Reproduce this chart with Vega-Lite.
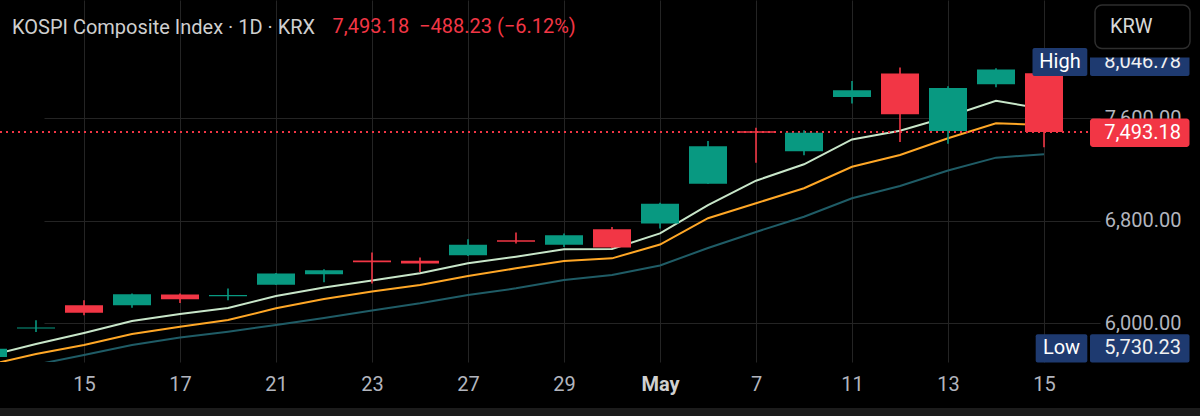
{
  "$schema": "https://vega.github.io/schema/vega-lite/v6.json",
  "width": 1088,
  "height": 362,
  "autosize": {"type": "none"},
  "padding": {"left": 0, "top": 0, "right": 112, "bottom": 54},
  "background": "#000000",
  "config": {"view": {"stroke": null}, "font": "Roboto"},
  "title": {
    "text": "KOSPI Composite Index · 1D · KRX",
    "anchor": "start", "frame": "group", "orient": "top",
    "offset": -54, "baseline": "alphabetic", "dx": 12,
    "fontSize": 20, "fontWeight": "normal", "color": "#cfcfcf"
  },
  "resolve": {"axis": {"x": "independent", "y": "independent"}},
  "datasets": {
    "candles": [
      {"d": "4/13", "o": 5737, "h": 5812, "l": 5730.23, "c": 5802, "m1": 5745, "m2": 5675, "m3": 5600},
      {"d": "4/14", "o": 5960, "h": 6023, "l": 5932, "c": 5967, "m1": 5838, "m2": 5760, "m3": 5677},
      {"d": "4/15", "o": 6140, "h": 6180, "l": 6062, "c": 6083, "m1": 5924, "m2": 5831, "m3": 5753},
      {"d": "4/16", "o": 6140, "h": 6232, "l": 6122, "c": 6226, "m1": 6018, "m2": 5916, "m3": 5831},
      {"d": "4/17", "o": 6224, "h": 6232, "l": 6158, "c": 6187, "m1": 6072, "m2": 5973, "m3": 5889},
      {"d": "4/20", "o": 6212, "h": 6271, "l": 6180, "c": 6220, "m1": 6119, "m2": 6026, "m3": 5934},
      {"d": "4/21", "o": 6300, "h": 6392, "l": 6298, "c": 6388, "m1": 6213, "m2": 6117, "m3": 5987},
      {"d": "4/22", "o": 6382, "h": 6421, "l": 6320, "c": 6414, "m1": 6279, "m2": 6190, "m3": 6041},
      {"d": "4/23", "o": 6490, "h": 6552, "l": 6310, "c": 6476, "m1": 6334, "m2": 6248, "m3": 6100},
      {"d": "4/24", "o": 6489, "h": 6513, "l": 6400, "c": 6466, "m1": 6390, "m2": 6299, "m3": 6156},
      {"d": "4/27", "o": 6531, "h": 6656, "l": 6525, "c": 6614, "m1": 6468, "m2": 6369, "m3": 6221},
      {"d": "4/28", "o": 6648, "h": 6708, "l": 6622, "c": 6636, "m1": 6520, "m2": 6429, "m3": 6273},
      {"d": "4/29", "o": 6614, "h": 6700, "l": 6595, "c": 6687, "m1": 6578, "m2": 6486, "m3": 6338},
      {"d": "4/30", "o": 6734, "h": 6752, "l": 6588, "c": 6591, "m1": 6580, "m2": 6507, "m3": 6377},
      {"d": "5/4", "o": 6778, "h": 6940, "l": 6739, "c": 6933, "m1": 6702, "m2": 6615, "m3": 6451},
      {"d": "5/6", "o": 7090, "h": 7423, "l": 7088, "c": 7381, "m1": 6923, "m2": 6820, "m3": 6588},
      {"d": "5/7", "o": 7498, "h": 7527, "l": 7254, "c": 7487, "m1": 7113, "m2": 6937, "m3": 6713},
      {"d": "5/8", "o": 7342, "h": 7506, "l": 7311, "c": 7488, "m1": 7241, "m2": 7054, "m3": 6832},
      {"d": "5/11", "o": 7766, "h": 7891, "l": 7715, "c": 7819, "m1": 7435, "m2": 7222, "m3": 6976},
      {"d": "5/12", "o": 7949, "h": 7996, "l": 7415, "c": 7631, "m1": 7503, "m2": 7314, "m3": 7072},
      {"d": "5/13", "o": 7501, "h": 7850, "l": 7402, "c": 7836, "m1": 7612, "m2": 7444, "m3": 7193},
      {"d": "5/14", "o": 7865, "h": 7990, "l": 7842, "c": 7981.41, "m1": 7737, "m2": 7561, "m3": 7293},
      {"d": "5/15", "o": 7951, "h": 8046.78, "l": 7374, "c": 7493.18, "m1": 7673, "m2": 7548, "m3": 7319}
    ],
    "tags": [
      {"tag": "High", "price": 8046.78},
      {"tag": "Last", "price": 7493.18},
      {"tag": "Low", "price": 5730.23}
    ]
  },
  "data": {"name": "candles"},
  "layer": [
    {
      "mark": {"type": "line", "color": "#1f5c66", "strokeWidth": 2, "clip": true},
      "encoding": {
        "x": {
          "field": "d", "type": "ordinal", "sort": null,
          "scale": {"type": "point", "range": [-12, 1044], "padding": 0},
          "axis": {
            "values": ["4/15", "4/17", "4/21", "4/23", "4/27", "4/29", "5/4", "5/7", "5/11", "5/13", "5/15"],
            "labelExpr": "datum.value == '5/4' ? 'May' : split(datum.value, '/')[1]",
            "grid": true, "gridColor": "#242424", "gridWidth": 1,
            "domain": false, "ticks": false, "labelAngle": 0,
            "labelFontSize": 20, "labelPadding": 12,
            "labelColor": {"condition": {"test": "datum.value == '5/4'", "value": "#d0d0d0"}, "value": "#b2b5be"},
            "labelFontWeight": {"condition": {"test": "datum.value == '5/4'", "value": "bold"}, "value": "normal"},
            "title": "7,493.18\u00a0\u00a0−488.23 (−6.12%)",
            "titleX": 332, "titleY": -329.5, "titleAlign": "left", "titleAnchor": "start",
            "titleBaseline": "alphabetic", "titleColor": "#f23645",
            "titleFontSize": 20, "titleFontWeight": "normal"
          }
        },
        "y": {
          "field": "m3", "type": "quantitative",
          "scale": {"domain": [5698, 8523.3], "nice": false, "zero": false},
          "axis": {
            "values": [6000, 6800, 7600], "format": ",.2f",
            "orient": "right", "grid": true, "gridColor": "#242424",
            "domain": false, "ticks": false, "title": null,
            "labelAlign": "right", "labelBaseline": "middle", "labelPadding": 93,
            "labelFontSize": 20, "labelColor": "#b2b5be"
          }
        }
      }
    },
    {
      "mark": {"type": "line", "color": "#ffa726", "strokeWidth": 2, "clip": true},
      "encoding": {
        "x": {"field": "d", "type": "ordinal", "sort": null, "axis": null},
        "y": {"field": "m2", "type": "quantitative", "scale": {"domain": [5698, 8523.3], "nice": false, "zero": false}, "axis": null}
      }
    },
    {
      "mark": {"type": "line", "color": "#c8e6c9", "strokeWidth": 2, "clip": true},
      "encoding": {
        "x": {"field": "d", "type": "ordinal", "sort": null, "axis": null},
        "y": {"field": "m1", "type": "quantitative", "scale": {"domain": [5698, 8523.3], "nice": false, "zero": false}, "axis": null}
      }
    },
    {
      "data": {"name": "tags"},
      "transform": [{"filter": "datum.tag == 'Last'"}],
      "mark": {"type": "rule", "color": "#f23645", "strokeWidth": 2, "strokeDash": [2, 4]},
      "encoding": {
        "y": {"field": "price", "type": "quantitative", "scale": {"domain": [5698, 8523.3], "nice": false, "zero": false}, "axis": null}
      }
    },
    {
      "mark": {"type": "rule", "strokeWidth": 1.6, "clip": true},
      "encoding": {
        "x": {"field": "d", "type": "ordinal", "sort": null, "axis": null},
        "y": {"field": "l", "type": "quantitative", "scale": {"domain": [5698, 8523.3], "nice": false, "zero": false}, "axis": null},
        "y2": {"field": "h"},
        "color": {"condition": {"test": "datum.c >= datum.o", "value": "#089981"}, "value": "#f23645"}
      }
    },
    {
      "mark": {"type": "bar", "size": 38, "clip": true},
      "encoding": {
        "x": {"field": "d", "type": "ordinal", "sort": null, "axis": null},
        "y": {"field": "o", "type": "quantitative", "scale": {"domain": [5698, 8523.3], "nice": false, "zero": false}, "axis": null},
        "y2": {"field": "c"},
        "color": {"condition": {"test": "datum.c >= datum.o", "value": "#089981"}, "value": "#f23645"}
      }
    },
    {
      "data": {"name": "tags"},
      "transform": [{"filter": "datum.tag == 'High'"}],
      "encoding": {
        "y": {"field": "price", "type": "quantitative", "scale": {"domain": [5698, 8523.3], "nice": false, "zero": false}, "axis": null}
      },
      "layer": [
        {"mark": {"type": "rect", "x": {"expr": "width - 55.5"}, "x2": {"expr": "width - 0.7"}, "yOffset": -13, "y2Offset": 15, "color": "#1e3a70", "cornerRadius": 2}, "encoding": {"y2": {"field": "price"}}},
        {"mark": {"type": "rect", "x": {"expr": "width + 2"}, "x2": {"expr": "width + 101.5"}, "yOffset": -13, "y2Offset": 15, "color": "#1e3a70", "cornerRadius": 2}, "encoding": {"y2": {"field": "price"}}},
        {"mark": {"type": "text", "x": "width", "dx": -28, "dy": 1, "align": "center", "baseline": "middle", "fontSize": 20, "color": "#ffffff"}, "encoding": {"text": {"field": "tag"}}},
        {"mark": {"type": "text", "x": "width", "dx": 93, "dy": 1, "align": "right", "baseline": "middle", "fontSize": 20, "color": "#f0f0f0"}, "encoding": {"text": {"field": "price", "format": ",.2f"}}}
      ]
    },
    {
      "data": {"name": "tags"},
      "transform": [{"filter": "datum.tag == 'Low'"}],
      "encoding": {
        "y": {"field": "price", "type": "quantitative", "scale": {"domain": [5698, 8523.3], "nice": false, "zero": false}, "axis": null}
      },
      "layer": [
        {"mark": {"type": "rect", "x": {"expr": "width - 52.3"}, "x2": {"expr": "width - 0.7"}, "yOffset": -23.6, "y2Offset": 4.7, "color": "#1e3a70", "cornerRadius": 2}, "encoding": {"y2": {"field": "price"}}},
        {"mark": {"type": "rect", "x": {"expr": "width + 2"}, "x2": {"expr": "width + 101.5"}, "yOffset": -23.6, "y2Offset": 4.7, "color": "#1e3a70", "cornerRadius": 2}, "encoding": {"y2": {"field": "price"}}},
        {"mark": {"type": "text", "x": "width", "dx": -26.5, "dy": -9.5, "align": "center", "baseline": "middle", "fontSize": 20, "color": "#ffffff"}, "encoding": {"text": {"field": "tag"}}},
        {"mark": {"type": "text", "x": "width", "dx": 93, "dy": -9.5, "align": "right", "baseline": "middle", "fontSize": 20, "color": "#f0f0f0"}, "encoding": {"text": {"field": "price", "format": ",.2f"}}}
      ]
    },
    {
      "data": {"name": "tags"},
      "transform": [{"filter": "datum.tag == 'Last'"}],
      "encoding": {
        "y": {"field": "price", "type": "quantitative", "scale": {"domain": [5698, 8523.3], "nice": false, "zero": false}, "axis": null}
      },
      "layer": [
        {"mark": {"type": "rect", "x": {"expr": "width + 2"}, "x2": {"expr": "width + 101.5"}, "yOffset": -13.4, "y2Offset": 15, "color": "#f23645", "cornerRadius": 3}, "encoding": {"y2": {"field": "price"}}},
        {"mark": {"type": "text", "x": "width", "dx": 93, "dy": 1, "align": "right", "baseline": "middle", "fontSize": 20, "color": "#ffffff"}, "encoding": {"text": {"field": "price", "format": ",.2f"}}}
      ]
    },
    {
      "data": {"values": [{}]},
      "layer": [
        {"mark": {"type": "rect", "x": {"expr": "width + 1"}, "x2": {"expr": "width + 112"}, "color": "#000000"},
         "encoding": {"y": {"datum": 8523.3, "type": "quantitative", "scale": {"domain": [5698, 8523.3], "nice": false, "zero": false}, "axis": null}, "y2": {"datum": 8074}}},
        {"mark": {"type": "rect", "x": {"expr": "width + 7"}, "x2": {"expr": "width + 102"}, "fill": "#000000", "stroke": "#2e2e2e", "strokeWidth": 1.5, "cornerRadius": 7},
         "encoding": {"y": {"datum": 8484, "type": "quantitative", "scale": {"domain": [5698, 8523.3], "nice": false, "zero": false}, "axis": null}, "y2": {"datum": 8145}}},
        {"mark": {"type": "text", "text": "KRW", "x": "width", "dx": 22, "align": "left", "baseline": "middle", "fontSize": 20, "color": "#d8d8d8"},
         "encoding": {"y": {"datum": 8312, "type": "quantitative", "scale": {"domain": [5698, 8523.3], "nice": false, "zero": false}, "axis": null}}},
        {"mark": {"type": "rect", "x": {"expr": "0"}, "x2": {"expr": "width + 112"}, "color": "#1c1c1c"},
         "encoding": {"y": {"datum": 5339, "type": "quantitative", "scale": {"domain": [5698, 8523.3], "nice": false, "zero": false}, "axis": null}, "y2": {"datum": 5270}}}
      ]
    }
  ]
}
